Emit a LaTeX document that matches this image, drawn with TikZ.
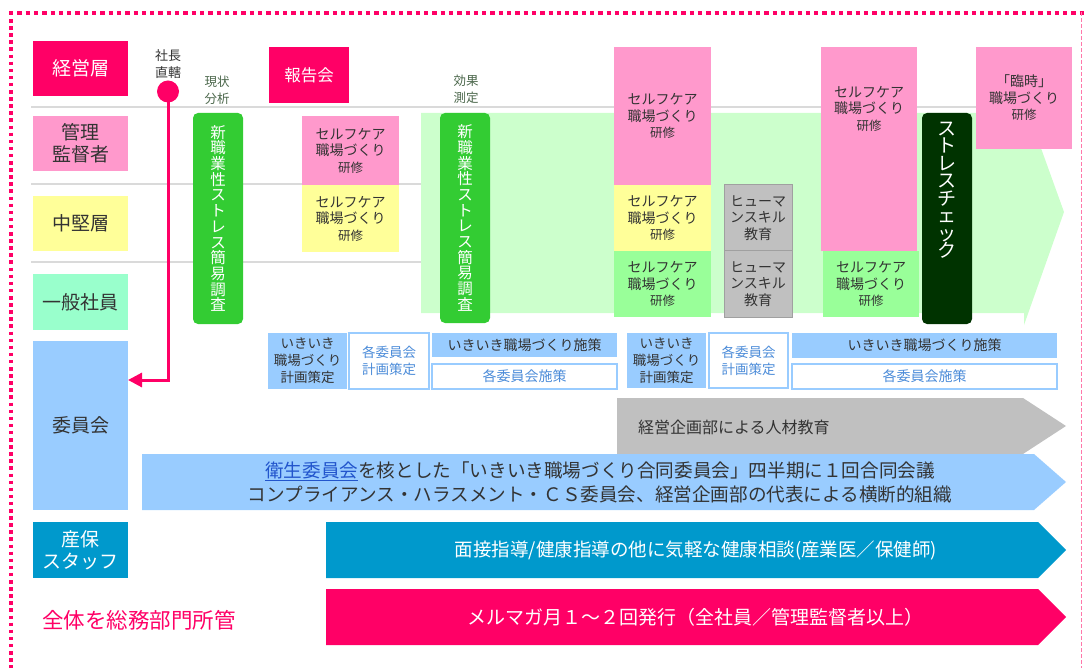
\documentclass[tikz,border=0pt]{standalone}
\usepackage{fontspec}
\setmainfont{Noto Sans CJK JP}
\usetikzlibrary{arrows.meta}
\definecolor{hot}{HTML}{FF0066}
\definecolor{lpink}{HTML}{FF99CC}
\definecolor{lyel}{HTML}{FFFF99}
\definecolor{mint}{HTML}{99FFCC}
\definecolor{lblue}{HTML}{99CCFF}
\definecolor{teal2}{HTML}{0099CC}
\definecolor{gbox}{HTML}{33CC33}
\definecolor{pgreen}{HTML}{CCFFCC}
\definecolor{lgreen}{HTML}{99FF99}
\definecolor{gray2}{HTML}{C0C0C0}
\definecolor{gray3}{HTML}{A0A0A0}
\definecolor{dgreen}{HTML}{003300}
\definecolor{txt}{HTML}{333333}
\definecolor{btxt}{HTML}{4C8CD9}
\definecolor{gtxt}{HTML}{4A664A}
\definecolor{linkc}{HTML}{2255CC}
\definecolor{sepc}{HTML}{DADADA}
\definecolor{rbord}{HTML}{FF77AA}
\newcommand\bx[7]{\node[#6,anchor=north west,minimum width={(#4-#2)*1pt},minimum height={(#5-#3)*1pt}] (#1) at (#2,#3) {#7};}
\newcommand\pent[6]{\fill[#6] (#1,#2) -- (#5,#2) -- (#3,{(#2+#4)/2}) -- (#5,#4) -- (#1,#4) -- cycle;}
\newcommand\kenshu{{\fontsize{12.5}{16.5}\selectfont 研修}}
\begin{document}
\begin{tikzpicture}[x=1pt,y=-1pt,
  every node/.style={inner sep=0pt,outer sep=0pt},
  lab/.style={font=\fontsize{19}{22}\selectfont,align=center,text=txt},
  sm/.style={font=\fontsize{14}{16.5}\selectfont,align=center,text=txt},
  bt/.style={font=\fontsize{13.5}{17}\selectfont,align=center},
  wbox/.style={bt,fill=white,draw=lblue,line width=1.5pt,text=btxt},
  bbox/.style={bt,fill=lblue,text=txt},
  vt/.style={font=\fontsize{15.5}{15.7}\selectfont,align=center,text=white,fill=gbox,rounded corners=5pt},
  note/.style={font=\fontsize{12.5}{16.5}\selectfont,align=center,text=gtxt},
  bandtxt/.style={font=\fontsize{18.6}{24}\selectfont,align=center}]
\useasboundingbox (0,0) rectangle (1084,668);
% frame
\draw[hot,line width=4.5pt,dash pattern=on 4.3pt off 4pt] (9,13) -- (1084,13);
\draw[hot,line width=4pt,dash pattern=on 3.5pt off 3.6pt] (11,12) -- (11,668);
\draw[rbord,line width=0.8pt,dash pattern=on 4pt off 2pt] (1081,12) -- (1081,668);
% row separators
\draw[sepc,line width=1.5pt] (31,107) -- (1000,107);
\draw[sepc,line width=1.5pt] (31,184) -- (1000,184);
\draw[sepc,line width=1.5pt] (31,262) -- (1000,262);
% pale green process arrow
\fill[pgreen] (421,113) -- (1024,113) -- (1024,101) -- (1064,212) -- (1024,325) -- (1024,313) -- (421,313) -- cycle;
% row labels
\bx{keiei}{33}{41}{128}{96}{lab,fill=hot,text=white}{経営層}
\bx{kanri}{33}{116}{128}{171}{lab,fill=lpink}{管理\\監督者}
\bx{chuken}{33}{196}{128}{251}{lab,fill=lyel}{中堅層}
\bx{ippan}{33}{274}{128}{330}{lab,fill=mint}{一般社員}
\bx{iinkai}{33}{341}{128}{510}{lab,fill=lblue}{委員会}
\bx{sanpo}{33}{522}{128}{578}{lab,fill=teal2,text=white}{産保\\スタッフ}
% direct line from president
\node[note,text=txt,font=\fontsize{13}{16.5}\selectfont] (shacho) at (168,64) {社長\\直轄};
\node[circle,fill=hot,minimum size=22pt] (dot) at (168,91.5) {};
\coordinate (turn) at (168,380);
\draw[hot,line width=3pt,-{Triangle[length=14pt,width=14pt]}] (dot.south) -- (turn) -- (iinkai.east|-turn);
% notes
\node[note] (genjo) at (217,90.5) {現状\\分析};
\node[note] (koka) at (466,89.5) {効果\\測定};
% stress surveys
\bx{chosa1}{193}{113}{243}{324}{vt}{新\\職\\業\\性\\ス\\ト\\レ\\ス\\簡\\易\\調\\査}
\bx{chosa2}{440}{113}{490}{323}{vt}{新\\職\\業\\性\\ス\\ト\\レ\\ス\\簡\\易\\調\\査}
% report meeting
\bx{hokoku}{269}{47}{349}{103}{lab,font=\fontsize{16.5}{20}\selectfont,fill=hot,text=white}{報告会}
% training column 1
\bx{sc1}{302}{116}{399}{185}{sm,fill=lpink}{セルフケア\\職場づくり\\\kenshu}
\bx{sc2}{302}{185}{399}{252}{sm,fill=lyel}{セルフケア\\職場づくり\\\kenshu}
% training column 2
\bx{sc3}{614}{47}{711}{185}{sm,fill=lpink}{セルフケア\\職場づくり\\\kenshu}
\bx{sc4}{614}{185}{711}{251}{sm,fill=lyel}{セルフケア\\職場づくり\\\kenshu}
\bx{sc5}{614}{251}{711}{317}{sm,fill=lgreen}{セルフケア\\職場づくり\\\kenshu}
\bx{hs1}{724}{185}{792}{251}{sm,fill=gray2,draw=gray3,line width=1pt}{ヒューマ\\ンスキル\\教育}
\bx{hs2}{724}{251}{792}{317}{sm,fill=gray2,draw=gray3,line width=1pt}{ヒューマ\\ンスキル\\教育}
% training column 3
\bx{sc6}{821}{47}{917}{251}{fill=lpink}{}
\node[sm] (sc6t) at (869,108.5) {セルフケア\\職場づくり\\\kenshu};
\bx{sc7}{823}{251}{919}{317}{sm,fill=lgreen}{セルフケア\\職場づくり\\\kenshu}
% stress check
\bx{sck}{922}{113}{972}{324}{fill=dgreen,rounded corners=5pt}{}
\node[font=\fontsize{19}{17.5}\selectfont,align=center,text=white,anchor=north] (sckt) at (947,122) {ス\\ト\\レ\\ス\\チ\\ェ\\ッ\\ク};
% temporary training
\bx{rinji}{976}{47}{1072}{149}{sm,fill=lpink}{「臨時」\\職場づくり\\\kenshu}
% committee plans
\bx{pA}{268}{333}{347}{389}{bbox}{いきいき\\職場づくり\\計画策定}
\bx{pB}{349}{333}{429}{389}{wbox}{各委員会\\計画策定}
\bx{pC}{432}{333}{617}{357}{bbox,font=\fontsize{14}{17}\selectfont}{いきいき職場づくり施策}
\bx{pD}{432}{364}{617}{389}{wbox,font=\fontsize{14}{17}\selectfont}{各委員会施策}
\bx{pE}{627}{333}{706}{388}{bbox}{いきいき\\職場づくり\\計画策定}
\bx{pF}{709}{333}{788}{388}{wbox}{各委員会\\計画策定}
\bx{pG}{792}{333}{1057}{358}{bbox,font=\fontsize{14}{17}\selectfont}{いきいき職場づくり施策}
\bx{pH}{792}{364}{1057}{389}{wbox,font=\fontsize{14}{17}\selectfont}{各委員会施策}
% bands
\pent{617}{398}{1066}{454}{1023}{gray2}
\node[anchor=west,font=\fontsize{16}{20}\selectfont,text=txt] (jinzai) at (638,427) {経営企画部による人材教育};
\pent{142}{454}{1066}{510}{1034}{lblue}
\node[bandtxt,text=txt] (godo) at (600,482) {\textcolor{linkc}{\underline{衛生委員会}}を核とした「いきいき職場づくり合同委員会」四半期に１回合同会議\\コンプライアンス・ハラスメント・ＣＳ委員会、経営企画部の代表による横断的組織};
\pent{326}{522}{1066}{578}{1038}{teal2}
\node[bandtxt,text=white,font=\fontsize{18.5}{20}\selectfont] (mensetsu) at (696,550) {面接指導/健康指導の他に気軽な健康相談(産業医／保健師)};
\pent{326}{589}{1066}{645}{1038}{hot}
\node[bandtxt,text=white,font=\fontsize{19}{20}\selectfont] (merumaga) at (695,617) {メルマガ月１～２回発行（全社員／管理監督者以上）};
\node[anchor=west,font=\fontsize{21.5}{24}\selectfont,text=hot] (zentai) at (42,620) {全体を総務部門所管};
\end{tikzpicture}
\end{document}
